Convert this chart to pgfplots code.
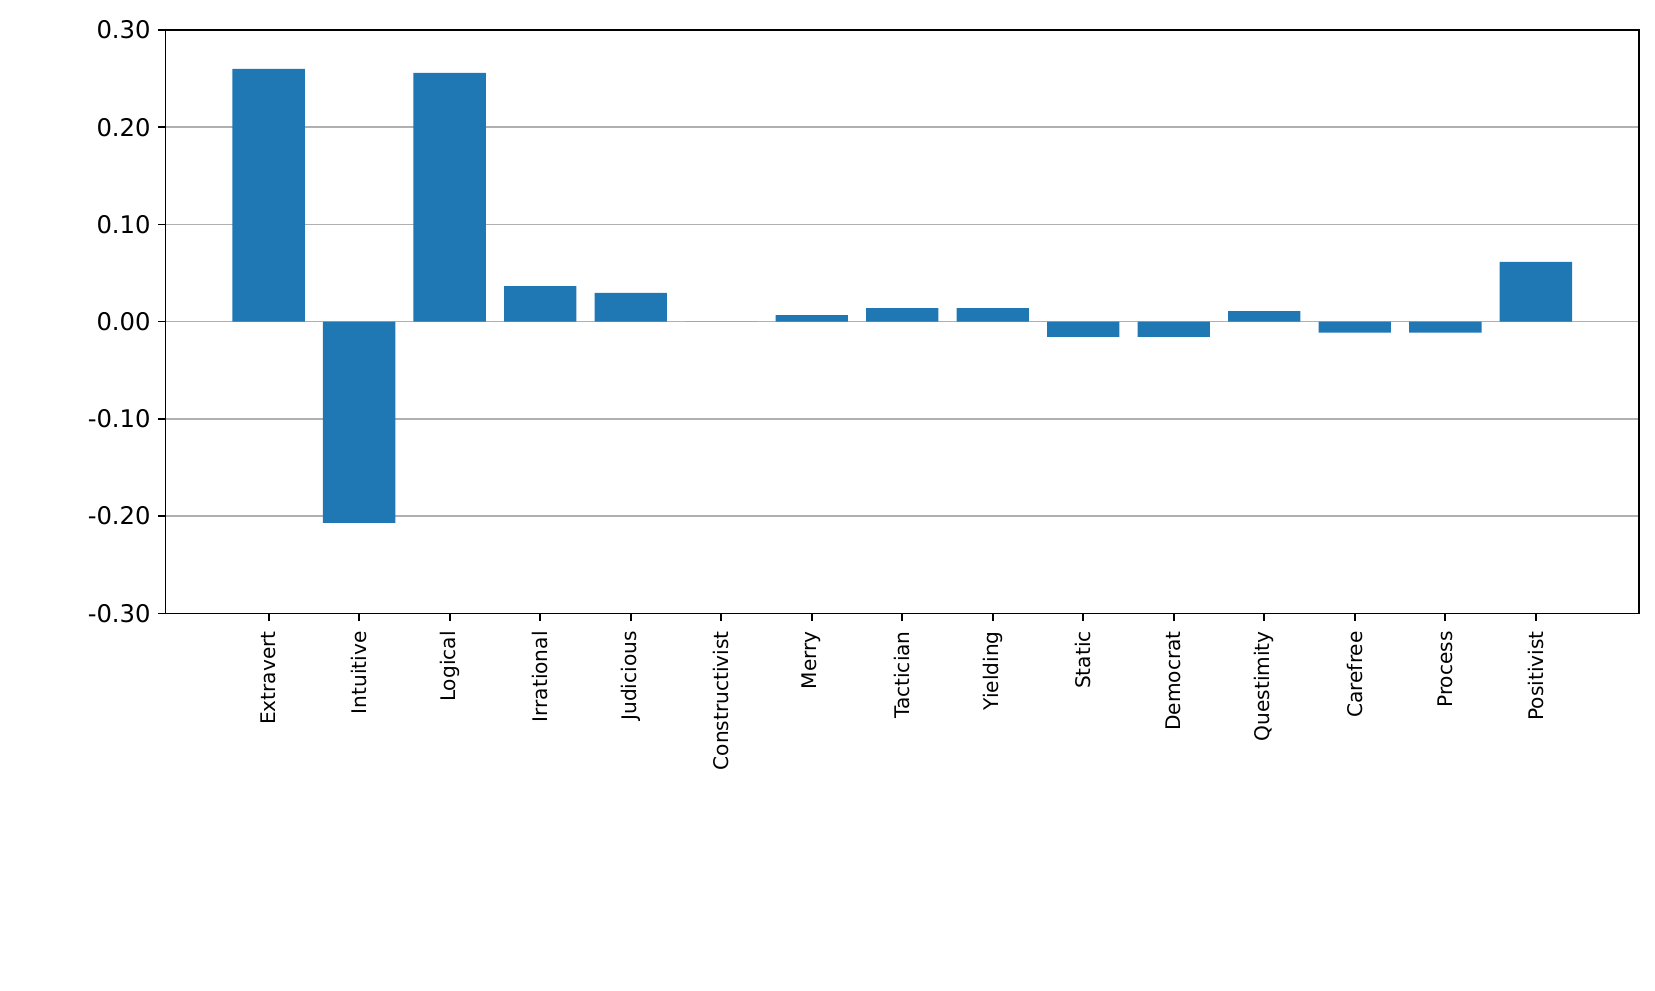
\documentclass[border=0pt]{standalone}
\usepackage{pgfplots}
\pgfplotsset{compat=1.18}
\usepackage{fontspec}
\setmainfont{DejaVu Sans}
\definecolor{barblue}{HTML}{1F77B4}
\definecolor{gridgray}{HTML}{B0B0B0}
\begin{document}
\begin{tikzpicture}
\path[use as bounding box] (0,0) rectangle (1191.6pt,712.8pt);
\begin{axis}[
  at={(119.16pt,271.2pt)}, anchor=south west,
  scale only axis, width=1060.9pt, height=420pt,
  xmin=-1.14, xmax=15.14,
  ymin=-0.3, ymax=0.3,
  ytick={-0.3,-0.2,-0.1,0,0.1,0.2,0.3},
  xtick={0,...,14},
  xticklabels={Extravert,Intuitive,Logical,Irrational,Judicious,Constructivist,Merry,Tactician,Yielding,Static,Democrat,Questimity,Carefree,Process,Positivist},
  x tick label style={rotate=90, anchor=east, font=\fontsize{14.5}{16}\selectfont, inner sep=0pt},
  xticklabel shift=7.5pt,
  yticklabel shift=5.25pt,
  y tick label style={font=\fontsize{17.5}{20}\selectfont, inner sep=0pt},
  yticklabel style={/pgf/number format/.cd, fixed, fixed zerofill, precision=2, assume math mode=true},
  /pgf/number format/assume math mode=true,
  tick align=outside,
  major tick length=5.25pt,
  every tick/.style={black, line width=1.2pt},
  xtick pos=bottom, ytick pos=left,
  ymajorgrids,
  grid style={gridgray, line width=1.2pt},
  axis line style={black, line width=1.2pt},
  minor tick num=0,
]
\addplot[ybar, bar width=0.8, fill=barblue, draw=none] coordinates {
(0,0.260) (1,-0.207) (2,0.256) (3,0.0365) (4,0.0297) (5,0) (6,0.0068) (7,0.014) (8,0.014) (9,-0.0156) (10,-0.0156) (11,0.0108) (12,-0.0113) (13,-0.0113) (14,0.0614)
};
\end{axis}
\end{tikzpicture}
\end{document}
